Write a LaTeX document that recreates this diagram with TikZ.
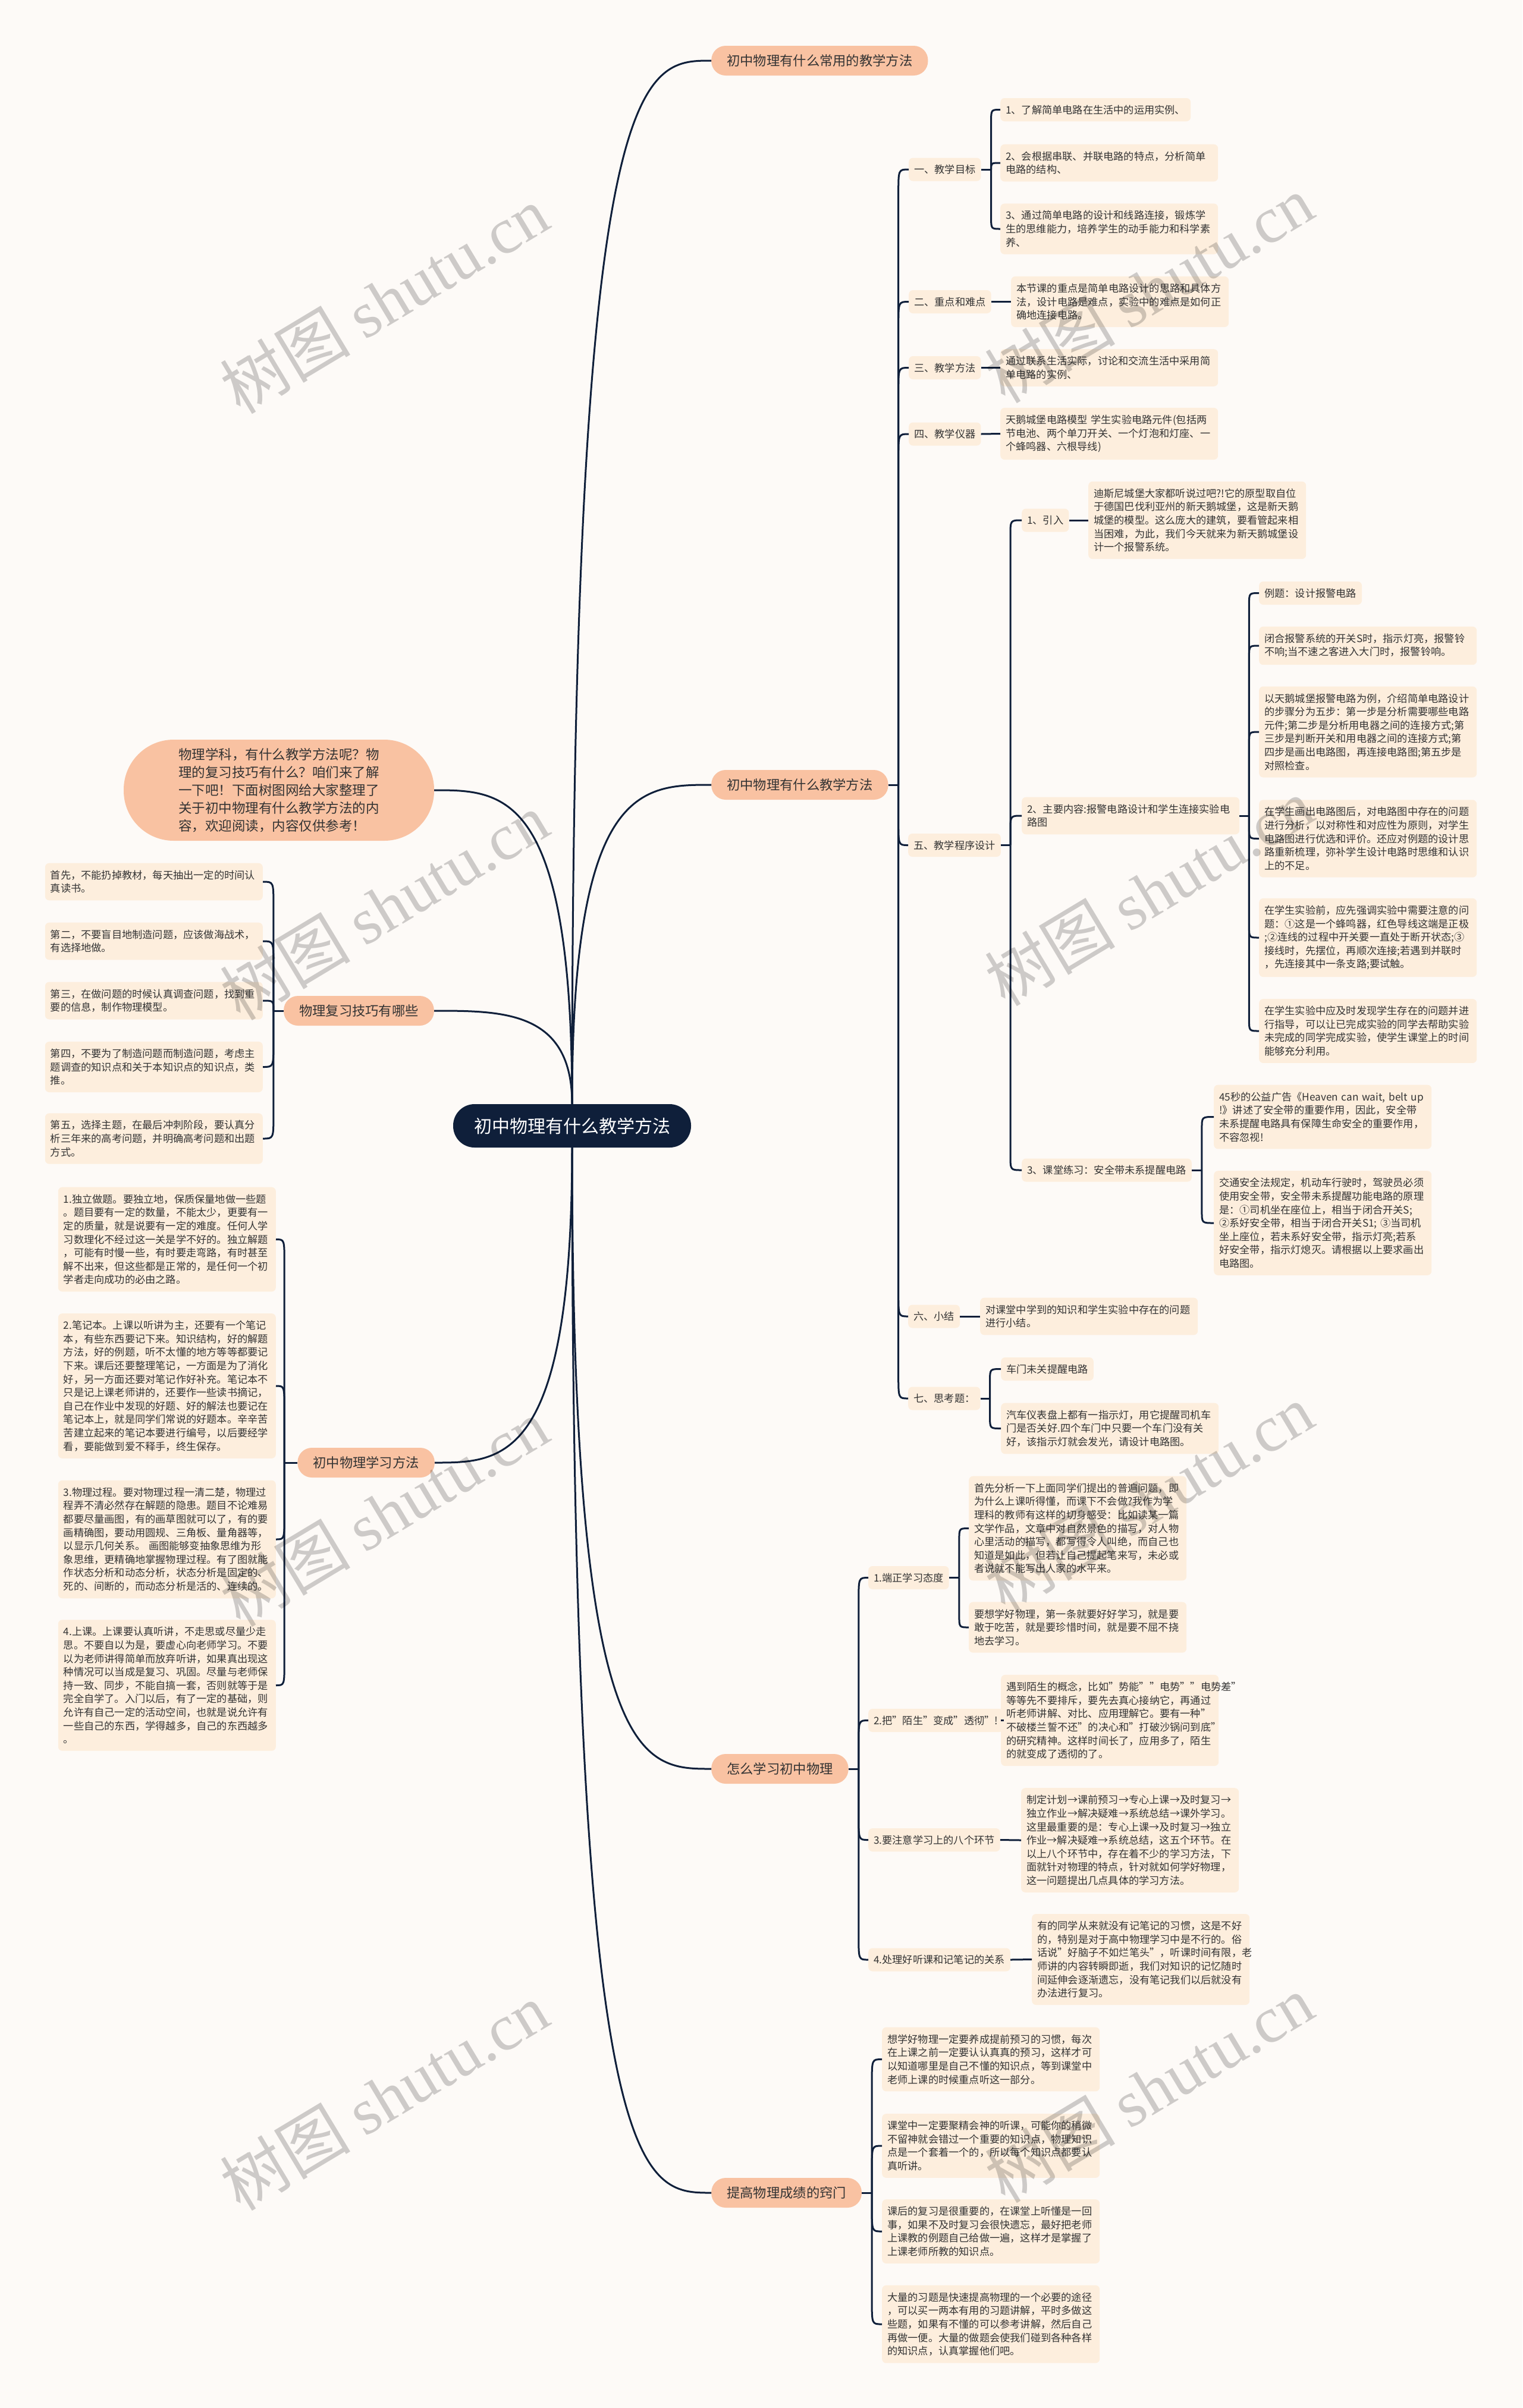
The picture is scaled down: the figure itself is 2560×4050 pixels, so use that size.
\documentclass[tikz,border=0pt]{standalone}
\usepackage{fontspec}
\setmainfont{Noto Sans CJK SC}
\newfontfamily\wmlat{Liberation Serif}
\usetikzlibrary{calc}
\definecolor{bgc}{HTML}{FDFAF7}
\definecolor{leafc}{HTML}{FDEEDD}
\definecolor{mainc}{HTML}{F9C2A2}
\definecolor{navy}{HTML}{0F1F3A}
\definecolor{txt}{HTML}{333333}
\newcommand\lfnt{\fontsize{17.2pt}{22.6pt}\selectfont}
\newcommand\mfnt{\fontsize{22.3pt}{30pt}\selectfont}
\newcommand\rfnt{\fontsize{30pt}{36pt}\selectfont}
\newcommand\brc[3]{\draw[conn] (#1) -- ($(#1 |- #2)+(0,#3)$) .. controls (#1 |- #2) .. (#2);}
\begin{document}
\begin{tikzpicture}[x=1pt,y=-1pt,
  box/.style={fill=leafc, rounded corners=7pt, text=txt, font=\lfnt, align=left, inner xsep=9pt},
  lvl/.style={box, anchor=west, minimum height=39pt, inner ysep=4pt},
  leafw/.style={box, anchor=west, text width=348pt, inner ysep=12pt},
  leafwl/.style={leafw, anchor=east},
  mainb/.style={fill=mainc, rounded corners=24pt, text=txt, font=\mfnt, minimum height=50pt, inner xsep=26pt, inner ysep=4pt},
  conn/.style={draw=navy, line width=3pt},
  wm/.style={rotate=31, text=black, opacity=0.19, font=\fontsize{110pt}{110pt}\selectfont}
]
\fill[bgc] (0,0) rectangle (2560,4050);
\useasboundingbox (0,0) rectangle (2560,4050);

% root
\node[fill=navy, text=white, font=\rfnt, rounded corners=36pt, minimum width=400pt, minimum height=73pt, inner sep=4pt] (root) at (962,1893.5) {初中物理有什么教学方法};

% main branches
\node[mainb, anchor=west] (m1) at (1196,102) {初中物理有什么常用的教学方法};
\node[mainb, anchor=west] (m2) at (1196,1320) {初中物理有什么教学方法};
\node[mainb, anchor=west] (m3) at (1196,2975) {怎么学习初中物理};
\node[mainb, anchor=west] (m4) at (1196,3688) {提高物理成绩的窍门};
\node[mainb, anchor=east] (l2) at (730,1700) {物理复习技巧有哪些};
\node[mainb, anchor=east] (l3) at (731,2460) {初中物理学习方法};
\node[fill=mainc, rounded corners=84pt, minimum width=522pt, minimum height=170pt, text=txt, font=\fontsize{22.5pt}{30pt}\selectfont, align=left, inner sep=4pt] (intro) at (469,1329) {物理学科，有什么教学方法呢？物\\理的复习技巧有什么？咱们来了解\\一下吧！下面树图网给大家整理了\\关于初中物理有什么教学方法的内\\容，欢迎阅读，内容仅供参考！};

% root curves
\draw[conn] (root.north) .. controls (962,102) and (1079,102) .. (m1.west);
\draw[conn] (root.north) .. controls (962,1320) and (1079,1320) .. (m2.west);
\draw[conn] (root.south) .. controls (962,2975) and (1079,2975) .. (m3.west);
\draw[conn] (root.south) .. controls (962,3688) and (1079,3688) .. (m4.west);
\draw[conn] (root.north) .. controls (962,1329) and (846,1329) .. (intro.east);
\draw[conn] (root.north) .. controls (962,1700) and (846,1700) .. (l2.east);
\draw[conn] (root.south) .. controls (962,2460) and (846,2460) .. (l3.east);

% ===== m2 children
\node[lvl] (a1) at (1528,285) {一、教学目标};
\node[lvl] (a1l1) at (1682,184.5) {1、了解简单电路在生活中的运用实例、};
\node[leafw] (a1l2) at (1682,274) {2、会根据串联、并联电路的特点，分析简单\\电路的结构、};
\node[leafw] (a1l3) at (1682,385) {3、通过简单电路的设计和线路连接，锻炼学\\生的思维能力，培养学生的动手能力和科学素\\养、};
\node[lvl] (a2) at (1528,507.5) {二、重点和难点};
\node[leafw] (a2l) at (1700,507.5) {本节课的重点是简单电路设计的思路和具体方\\法，设计电路是难点，实验中的难点是如何正\\确地连接电路。};
\node[lvl] (a3) at (1528,618.5) {三、教学方法};
\node[leafw] (a3l) at (1682,618.5) {通过联系生活实际，讨论和交流生活中采用简\\单电路的实例、};
\node[lvl] (a4) at (1528,730) {四、教学仪器};
\node[leafw] (a4l) at (1682,729.5) {天鹅城堡电路模型 学生实验电路元件(包括两\\节电池、两个单刀开关、一个灯泡和灯座、一\\个蜂鸣器、六根导线)};
\node[lvl] (a5) at (1527,1421.5) {五、教学程序设计};
\node[lvl] (b1) at (1718,875) {1、引入};
\node[leafw] (b1l) at (1830,875) {迪斯尼城堡大家都听说过吧?!它的原型取自位\\于德国巴伐利亚州的新天鹅城堡，这是新天鹅\\城堡的模型。这么庞大的建筑，要看管起来相\\当困难，为此，我们今天就来为新天鹅城堡设\\计一个报警系统。};
\node[leafw] (b2) at (1718,1372) {2、主要内容:报警电路设计和学生连接实验电\\路图};
\node[lvl] (b2l1) at (2117,997.5) {例题：设计报警电路};
\node[leafw] (b2l2) at (2117,1086) {闭合报警系统的开关S时，指示灯亮，报警铃\\不响;当不速之客进入大门时，报警铃响。};
\node[leafw] (b2l3) at (2117,1231) {以天鹅城堡报警电路为例，介绍简单电路设计\\的步骤分为五步：第一步是分析需要哪些电路\\元件;第二步是分析用电器之间的连接方式;第\\三步是判断开关和用电器之间的连接方式;第\\四步是画出电路图，再连接电路图;第五步是\\对照检查。};
\node[leafw] (b2l4) at (2117,1410.5) {在学生画出电路图后，对电路图中存在的问题\\进行分析，以对称性和对应性为原则，对学生\\电路图进行优选和评价。还应对例题的设计思\\路重新梳理，弥补学生设计电路时思维和认识\\上的不足。};
\node[leafw] (b2l5) at (2117,1577) {在学生实验前，应先强调实验中需要注意的问\\题：①这是一个蜂鸣器，红色导线这端是正极\\;②连线的过程中开关要一直处于断开状态;③\\接线时，先摆位，再顺次连接;若遇到并联时\\，先连接其中一条支路;要试触。};
\node[leafw] (b2l6) at (2117,1734) {在学生实验中应及时发现学生存在的问题并进\\行指导，可以让已完成实验的同学去帮助实验\\未完成的同学完成实验，使学生课堂上的时间\\能够充分利用。};
\node[lvl] (b3) at (1718,1968) {3、课堂练习：安全带未系提醒电路};
\node[leafw] (b3l1) at (2041,1878.5) {45秒的公益广告《Heaven can wait, belt up\\!》讲述了安全带的重要作用，因此，安全带\\未系提醒电路具有保障生命安全的重要作用，\\不容忽视!};
\node[leafw] (b3l2) at (2041,2057) {交通安全法规定，机动车行驶时，驾驶员必须\\使用安全带，安全带未系提醒功能电路的原理\\是：①司机坐在座位上，相当于闭合开关S;\\②系好安全带，相当于闭合开关S1; ③当司机\\坐上座位，若未系好安全带，指示灯亮;若系\\好安全带，指示灯熄灭。请根据以上要求画出\\电路图。};
\node[lvl] (a6) at (1527,2214) {六、小结};
\node[leafw] (a6l) at (1648,2214) {对课堂中学到的知识和学生实验中存在的问题\\进行小结。};
\node[lvl] (a7) at (1527,2352) {七、思考题：};
\node[lvl] (a7l1) at (1683,2302.5) {车门未关提醒电路};
\node[leafw] (a7l2) at (1683,2402.5) {汽车仪表盘上都有一指示灯，用它提醒司机车\\门是否关好.四个车门中只要一个车门没有关\\好，该指示灯就会发光，请设计电路图。};

% ===== m3 children
\node[lvl] (c1) at (1460,2653.5) {1.端正学习态度};
\node[leafw] (c1l1) at (1629,2570.5) {首先分析一下上面同学们提出的普遍问题，即\\为什么上课听得懂，而课下不会做?我作为学\\理科的教师有这样的切身感受：比如读某一篇\\文学作品，文章中对自然景色的描写，对人物\\心里活动的描写，都写得令人叫绝，而自己也\\知道是如此，但若让自己提起笔来写，未必或\\者说就不能写出人家的水平来。};
\node[leafw] (c1l2) at (1629,2737) {要想学好物理，第一条就要好好学习，就是要\\敢于吃苦，就是要珍惜时间，就是要不屈不挠\\地去学习。};
\node[lvl] (c2) at (1460,2893.5) {2.把"陌生"变成"透彻"!};
\node[leafw] (c2l) at (1683,2893.5) {遇到陌生的概念，比如"势能""电势""电势差"\\等等先不要排斥，要先去真心接纳它，再通过\\听老师讲解、对比、应用理解它。要有一种"\\不破楼兰誓不还"的决心和"打破沙锅问到底"\\的研究精神。这样时间长了，应用多了，陌生\\的就变成了透彻的了。};
\node[lvl] (c3) at (1460,3094.5) {3.要注意学习上的八个环节};
\node[leafw] (c3l) at (1717,3095) {制定计划→课前预习→专心上课→及时复习→\\独立作业→解决疑难→系统总结→课外学习。\\这里最重要的是：专心上课→及时复习→独立\\作业→解决疑难→系统总结，这五个环节。在\\以上八个环节中，存在着不少的学习方法，下\\面就针对物理的特点，针对就如何学好物理，\\这一问题提出几点具体的学习方法。};
\node[lvl] (c4) at (1460,3296) {4.处理好听课和记笔记的关系};
\node[leafw] (c4l) at (1735,3295.5) {有的同学从来就没有记笔记的习惯，这是不好\\的，特别是对于高中物理学习中是不行的。俗\\话说"好脑子不如烂笔头"，听课时间有限，老\\师讲的内容转瞬即逝，我们对知识的记忆随时\\间延伸会逐渐遗忘，没有笔记我们以后就没有\\办法进行复习。};

% ===== m4 children
\node[leafw] (d1) at (1483,3463.5) {想学好物理一定要养成提前预习的习惯，每次\\在上课之前一定要认认真真的预习，这样才可\\以知道哪里是自己不懂的知识点，等到课堂中\\老师上课的时候重点听这一部分。};
\node[leafw] (d2) at (1483,3609) {课堂中一定要聚精会神的听课，可能你的稍微\\不留神就会错过一个重要的知识点，物理知识\\点是一个套着一个的，所以每个知识点都要认\\真听讲。};
\node[leafw] (d3) at (1483,3753) {课后的复习是很重要的，在课堂上听懂是一回\\事，如果不及时复习会很快遗忘，最好把老师\\上课教的例题自己给做一遍，这样才是掌握了\\上课老师所教的知识点。};
\node[leafw] (d4) at (1483,3909) {大量的习题是快速提高物理的一个必要的途径\\，可以买一两本有用的习题讲解，平时多做这\\些题，如果有不懂的可以参考讲解，然后自己\\再做一便。大量的做题会使我们碰到各种各样\\的知识点，认真掌握他们吧。};

% ===== left l2 children
\node[leafwl] (e1) at (442,1483) {首先，不能扔掉教材，每天抽出一定的时间认\\真读书。};
\node[leafwl] (e2) at (442,1583) {第二，不要盲目地制造问题，应该做海战术，\\有选择地做。};
\node[leafwl] (e3) at (442,1683) {第三，在做问题的时候认真调查问题，找到重\\要的信息，制作物理模型。};
\node[leafwl] (e4) at (442,1794.5) {第四，不要为了制造问题而制造问题，考虑主\\题调查的知识点和关于本知识点的知识点，类\\推。};
\node[leafwl] (e5) at (442,1915) {第五，选择主题，在最后冲刺阶段，要认真分\\析三年来的高考问题，并明确高考问题和出题\\方式。};

% ===== left l3 children
\node[leafwl] (f1) at (464,2084.5) {1.独立做题。要独立地，保质保量地做一些题\\。题目要有一定的数量，不能太少，更要有一\\定的质量，就是说要有一定的难度。任何人学\\习数理化不经过这一关是学不好的。独立解题\\，可能有时慢一些，有时要走弯路，有时甚至\\解不出来，但这些都是正常的，是任何一个初\\学者走向成功的必由之路。};
\node[leafwl] (f2) at (464,2331) {2.笔记本。上课以听讲为主，还要有一个笔记\\本，有些东西要记下来。知识结构，好的解题\\方法，好的例题，听不太懂的地方等等都要记\\下来。课后还要整理笔记，一方面是为了消化\\好，另一方面还要对笔记作好补充。笔记本不\\只是记上课老师讲的，还要作一些读书摘记，\\自己在作业中发现的好题、好的解法也要记在\\笔记本上，就是同学们常说的好题本。辛辛苦\\苦建立起来的笔记本要进行编号，以后要经学\\看，要能做到爱不释手，终生保存。};
\node[leafwl] (f3) at (464,2589) {3.物理过程。要对物理过程一清二楚，物理过\\程弄不清必然存在解题的隐患。题目不论难易\\都要尽量画图，有的画草图就可以了，有的要\\画精确图，要动用圆规、三角板、量角器等，\\以显示几何关系。 画图能够变抽象思维为形\\象思维，更精确地掌握物理过程。有了图就能\\作状态分析和动态分析，状态分析是固定的、\\死的、间断的，而动态分析是活的、连续的。};
\node[leafwl] (f4) at (464,2834.5) {4.上课。上课要认真听讲，不走思或尽量少走\\思。不要自以为是，要虚心向老师学习。不要\\以为老师讲得简单而放弃听讲，如果真出现这\\种情况可以当成是复习、巩固。尽量与老师保\\持一致、同步，不能自搞一套，否则就等于是\\完全自学了。入门以后，有了一定的基础，则\\允许有自己一定的活动空间，也就是说允许有\\一些自己的东西，学得越多，自己的东西越多\\。};

% ===== spines
\coordinate (sm2) at ($(m2.east)+(17,0)$);
\draw[conn] (m2.east) -- (sm2);
\brc{sm2}{a1.west}{40} \brc{sm2}{a2.west}{40} \brc{sm2}{a3.west}{40} \brc{sm2}{a4.west}{40}
\brc{sm2}{a5.west}{-40} \brc{sm2}{a6.west}{-40} \brc{sm2}{a7.west}{-40}

\coordinate (sa1) at ($(a1.east)+(17,0)$);
\draw[conn] (a1.east) -- (sa1);
\brc{sa1}{a1l1.west}{20} \brc{sa1}{a1l2.west}{11} \brc{sa1}{a1l3.west}{-20}
\draw[conn] (a2.east) -- (a2l.west);
\draw[conn] (a3.east) -- (a3l.west);
\draw[conn] (a4.east) -- (a4l.west);

\coordinate (sa5) at ($(a5.east)+(16,0)$);
\draw[conn] (a5.east) -- (sa5);
\brc{sa5}{b1.west}{25} \brc{sa5}{b2.west}{25} \brc{sa5}{b3.west}{-25}
\draw[conn] (b1.east) -- (b1l.west);
\coordinate (sb2) at ($(b2.east)+(16,0)$);
\draw[conn] (b2.east) -- (sb2);
\brc{sb2}{b2l1.west}{20} \brc{sb2}{b2l2.west}{20} \brc{sb2}{b2l3.west}{20}
\brc{sb2}{b2l4.west}{-20} \brc{sb2}{b2l5.west}{-20} \brc{sb2}{b2l6.west}{-20}
\coordinate (sb3) at ($(b3.east)+(17,0)$);
\draw[conn] (b3.east) -- (sb3);
\brc{sb3}{b3l1.west}{20} \brc{sb3}{b3l2.west}{-20}
\draw[conn] (a6.east) -- (a6l.west);
\coordinate (sa7) at ($(a7.east)+(16,0)$);
\draw[conn] (a7.east) -- (sa7);
\brc{sa7}{a7l1.west}{20} \brc{sa7}{a7l2.west}{-20}

\coordinate (sm3) at ($(m3.east)+(17,0)$);
\draw[conn] (m3.east) -- (sm3);
\brc{sm3}{c1.west}{40} \brc{sm3}{c2.west}{40} \brc{sm3}{c3.west}{-40} \brc{sm3}{c4.west}{-40}
\coordinate (sc1) at ($(c1.east)+(17,0)$);
\draw[conn] (c1.east) -- (sc1);
\brc{sc1}{c1l1.west}{20} \brc{sc1}{c1l2.west}{-20}
\draw[conn] (c2.east) -- (c2l.west);
\draw[conn] (c3.east) -- (c3l.west);
\draw[conn] (c4.east) -- (c4l.west);

\coordinate (sm4) at ($(m4.east)+(17,0)$);
\draw[conn] (m4.east) -- (sm4);
\brc{sm4}{d1.west}{40} \brc{sm4}{d2.west}{40} \brc{sm4}{d3.west}{-40} \brc{sm4}{d4.west}{-40}

\coordinate (sl2) at ($(l2.west)+(-17,0)$);
\draw[conn] (l2.west) -- (sl2);
\brc{sl2}{e1.east}{40} \brc{sl2}{e2.east}{40} \brc{sl2}{e3.east}{17} \brc{sl2}{e4.east}{-40} \brc{sl2}{e5.east}{-40}

\coordinate (sl3) at ($(l3.west)+(-22,0)$);
\draw[conn] (l3.west) -- (sl3);
\brc{sl3}{f1.east}{40} \brc{sl3}{f2.east}{40} \brc{sl3}{f3.east}{-40} \brc{sl3}{f4.east}{-40}

% ===== watermarks
\node[wm] (w1) at (646,504) {树图 {\wmlat shutu.cn}};
\node[wm] (w2) at (1932,486) {树图 {\wmlat shutu.cn}};
\node[wm] (w3) at (646,1524) {树图 {\wmlat shutu.cn}};
\node[wm] (w4) at (1932,1500) {树图 {\wmlat shutu.cn}};
\node[wm] (w5) at (646,2544) {树图 {\wmlat shutu.cn}};
\node[wm] (w6) at (1932,2519) {树图 {\wmlat shutu.cn}};
\node[wm] (w7) at (646,3526) {树图 {\wmlat shutu.cn}};
\node[wm] (w8) at (1932,3513) {树图 {\wmlat shutu.cn}};
\end{tikzpicture}
\end{document}
